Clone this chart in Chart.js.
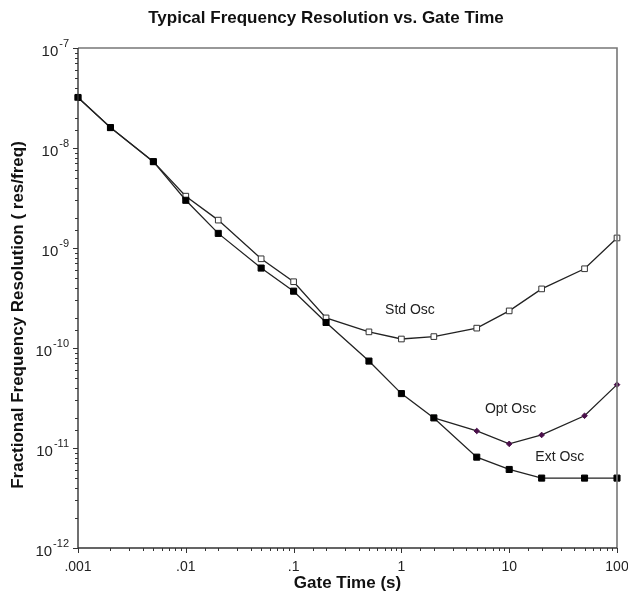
<!DOCTYPE html>
<html lang="en">
  <head>
    <meta charset="UTF-8">
    <title>Typical Frequency Resolution vs. Gate Time</title>
    <script src="https://cdn.jsdelivr.net/npm/chart.js"></script>
    <style>
      html, body{margin: 0; padding: 0; background: #fff;}
      #wrap{width: 628px; height: 595px;}
    </style>
  </head>
  <body>
    <div id="wrap">
      <canvas id="myChart" width="628" height="595"></canvas>
    </div>
    <script>
      // gate time (s) and fractional resolution for each oscillator
      const gateTimes = [0.001, 0.002, 0.005, 0.01, 0.02, 0.05, 0.1, 0.2, 0.5, 1, 2, 5, 10, 20, 50, 100];
      const extOsc = [3.2e-8, 1.6e-8, 7.3e-9, 3.0e-9, 1.4e-9, 6.3e-10, 3.7e-10, 1.8e-10, 7.4e-11, 3.5e-11, 2.0e-11, 8.1e-12, 6.1e-12, 5.0e-12, 5.0e-12, 5.0e-12];
      const stdOsc = [3.2e-8, 1.6e-8, 7.3e-9, 3.3e-9, 1.9e-9, 7.8e-10, 4.6e-10, 2.0e-10, 1.45e-10, 1.23e-10, 1.3e-10, 1.58e-10, 2.35e-10, 3.9e-10, 6.2e-10, 1.26e-9];
      const optOsc = [null, null, null, null, null, null, null, null, null, null, 2.0e-11, 1.48e-11, 1.1e-11, 1.35e-11, 2.1e-11, 4.3e-11];

      const xTickValues = [0.001, 0.01, 0.1, 1, 10, 100];
      const xTickLabels = ['.001', '.01', '.1', '1', '10', '100'];
      const yTickExps = [-12, -11, -10, -9, -8, -7];

      // series name labels, placed in data coordinates
      const seriesNotes = [
        {text: 'Std Osc', x: 1.2, y: 2.4e-10},
        {text: 'Opt Osc', x: 10.3, y: 2.45e-11},
        {text: 'Ext Osc', x: 29.5, y: 8.1e-12}
      ];

      function pts(arr){
        return gateTimes.map((t, i) => ({x: t, y: arr[i]})).filter(p => p.y !== null);
      }
      function isDecade(v){
        const l = Math.log10(v);
        return Math.abs(l - Math.round(l)) < 1e-6;
      }

      const FONT = '"Liberation Sans", Arial, Helvetica, sans-serif';

      const decoPlugin = {
        id: 'deco',
        afterDraw(chart){
          const ctx = chart.ctx;
          const a = chart.chartArea;
          const xs = chart.scales.x, ys = chart.scales.y;
          ctx.save();

          // frame
          ctx.strokeStyle = '#777';
          ctx.lineWidth = 1.6;
          ctx.beginPath();
          ctx.moveTo(a.left, a.top); ctx.lineTo(a.right, a.top); ctx.lineTo(a.right, a.bottom);
          ctx.stroke();
          ctx.strokeStyle = '#333';
          ctx.lineWidth = 1.4;
          ctx.beginPath();
          ctx.moveTo(a.left, a.top); ctx.lineTo(a.left, a.bottom); ctx.lineTo(a.right, a.bottom);
          ctx.stroke();

          // tick marks
          ctx.lineWidth = 1;
          ctx.strokeStyle = '#333';
          ctx.beginPath();
          xs.ticks.forEach(t => {
            const px = Math.round(xs.getPixelForValue(t.value)) + 0.5;
            const len = isDecade(t.value) ? 5 : 3;
            ctx.moveTo(px, a.bottom); ctx.lineTo(px, a.bottom + len);
          });
          ys.ticks.forEach(t => {
            const py = Math.round(ys.getPixelForValue(t.value)) + 0.5;
            const len = isDecade(t.value) ? 5 : 3;
            ctx.moveTo(a.left, py); ctx.lineTo(a.left - len, py);
          });
          ctx.stroke();

          // y tick labels 10^n
          ctx.fillStyle = '#222';
          ctx.textBaseline = 'alphabetic';
          yTickExps.forEach(e => {
            const py = ys.getPixelForValue(Math.pow(10, e));
            const sup = '-' + Math.abs(e);
            ctx.font = '11px ' + FONT;
            const supW = ctx.measureText(sup).width;
            ctx.textAlign = 'right';
            ctx.fillText(sup, a.left - 9, py - 1);
            ctx.font = '15px ' + FONT;
            ctx.fillText('10', a.left - 10 - supW, py + 8);
          });

          // series notes
          ctx.font = '14px ' + FONT;
          ctx.textAlign = 'center';
          ctx.textBaseline = 'middle';
          seriesNotes.forEach(n => {
            ctx.fillText(n.text, xs.getPixelForValue(n.x), ys.getPixelForValue(n.y));
          });

          // titles
          ctx.fillStyle = '#111';
          ctx.font = 'bold 17px ' + FONT;
          ctx.fillText('Typical Frequency Resolution vs. Gate Time', 326, 18);
          ctx.fillText('Gate Time (s)', (a.left + a.right) / 2, 583);
          ctx.translate(18, 315);
          ctx.rotate(-Math.PI / 2);
          ctx.fillText('Fractional Frequency Resolution ( res/freq)', 0, 0);
          ctx.restore();
        }
      };

      const line = '#222';
      new Chart(document.getElementById('myChart'), {
        type: 'line',
        data: {
          datasets: [
            {
              label: 'Ext Osc',
              data: pts(extOsc),
              borderColor: line, borderWidth: 1.3,
              pointStyle: 'rect', pointRadius: 4.3,
              pointBackgroundColor: '#000', pointBorderColor: '#000', pointBorderWidth: 1,
              clip: false
            },
            {
              label: 'Std Osc',
              data: pts(stdOsc),
              borderColor: line, borderWidth: 1.3,
              pointStyle: 'rect', pointRadius: 4,
              pointBackgroundColor: '#fff', pointBorderColor: '#333', pointBorderWidth: 1,
              clip: false
            },
            {
              label: 'Opt Osc',
              data: pts(optOsc),
              borderColor: line, borderWidth: 1.3,
              pointStyle: 'rectRot', pointRadius: 2.8,
              pointBackgroundColor: '#4a0f4a', pointBorderColor: '#4a0f4a', pointBorderWidth: 1,
              clip: false
            }
          ]
        },
        options: {
          responsive: false,
          animation: false,
          devicePixelRatio: 1,
          layout: {padding: {top: 48, right: 11, left: 0, bottom: 0}},
          plugins: {legend: {display: false}, tooltip: {enabled: false}, title: {display: false}},
          scales: {
            x: {
              type: 'logarithmic',
              min: 0.001, max: 100,
              border: {display: false},
              grid: {display: false, drawTicks: false},
              afterFit(s){ s.height = 47; s.paddingLeft = 0; s.paddingRight = 0; },
              ticks: {
                autoSkip: false, maxRotation: 0, padding: 11,
                color: '#222', font: {family: FONT, size: 14},
                callback(v){
                  const i = xTickValues.findIndex(t => Math.abs(Math.log10(t) - Math.log10(v)) < 1e-6);
                  return i >= 0 ? xTickLabels[i] : '';
                }
              }
            },
            y: {
              type: 'logarithmic',
              min: 1e-12, max: 1e-7,
              border: {display: false},
              grid: {display: false, drawTicks: false},
              afterFit(s){ s.width = 78; },
              ticks: {display: false, autoSkip: false}
            }
          }
        },
        plugins: [decoPlugin]
      });
    </script>
  </body>
</html>
